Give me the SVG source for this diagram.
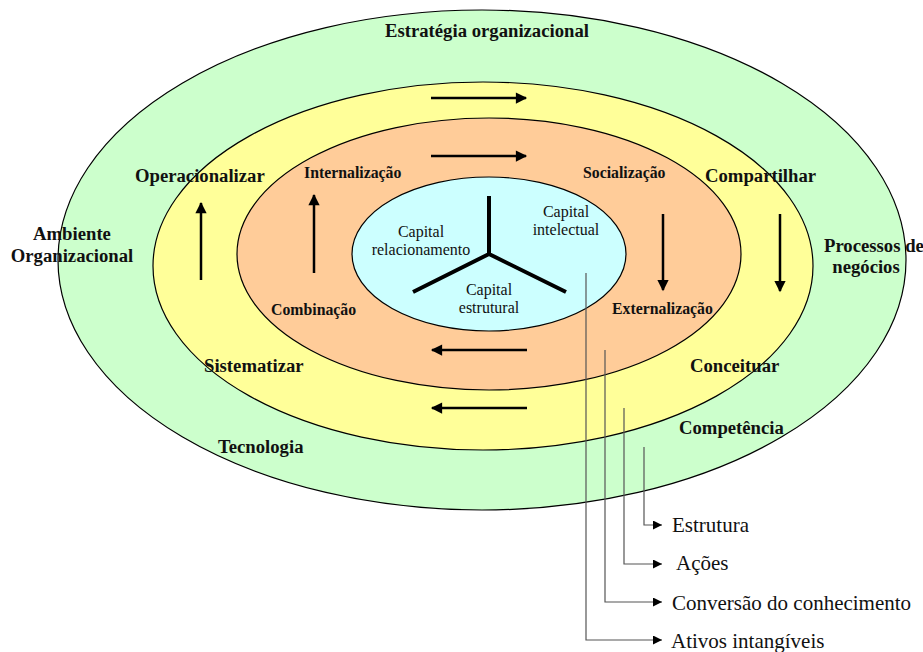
<svg xmlns="http://www.w3.org/2000/svg" width="923" height="652" viewBox="0 0 923 652">
  <style>
    .ring { stroke: #000; stroke-width: 1.2; }
    .big { font-family: "Liberation Serif", "Times New Roman", serif; font-weight: bold; font-size: 18.7px; fill: #111; }
    .small { font-family: "Liberation Serif", "Times New Roman", serif; font-weight: bold; font-size: 15.8px; fill: #111; }
    .cap { font-family: "Liberation Serif", "Times New Roman", serif; font-size: 16px; fill: #111; text-anchor: middle; }
    .note { font-family: "Liberation Serif", "Times New Roman", serif; font-size: 21px; fill: #111; }
    .flow { stroke: #000; stroke-width: 2.5; fill: none; marker-end: url(#head); }
    .lead { stroke: #555; stroke-width: 1.2; fill: none; marker-end: url(#tip); }
  </style>
  <defs>
    <marker id="head" viewBox="0 0 10 10" refX="9" refY="5" markerWidth="6" markerHeight="4.5" markerUnits="strokeWidth" orient="auto">
      <path d="M0,0 L10,5 L0,10 Z" fill="#000"/>
    </marker>
    <marker id="tip" viewBox="0 0 10 10" refX="10" refY="5" markerWidth="15" markerHeight="9" markerUnits="userSpaceOnUse" orient="auto">
      <path d="M0,0 L10,5 L0,10 Z" fill="#000"/>
    </marker>
  </defs>

  <rect width="923" height="652" fill="#fff"/>

  <!-- concentric rings -->
  <g id="ring-strategy">
    <ellipse class="ring" cx="482" cy="260" rx="424" ry="250" fill="#CCFFCC"/>
  </g>
  <g id="ring-competence">
    <ellipse class="ring" cx="483" cy="266" rx="330" ry="184" fill="#FFFF99"/>
  </g>
  <g id="ring-conversion">
    <ellipse class="ring" cx="489" cy="254" rx="252" ry="136" fill="#FFCC99"/>
  </g>
  <g id="core-capital">
    <ellipse class="ring" cx="489" cy="254" rx="137" ry="77" fill="#CCFFFF"/>
    <path d="M489,254 L489,196 M489,254 L413,292 M489,254 L566,292" stroke="#000" stroke-width="4" fill="none"/>
    <text class="cap" x="421" y="237">Capital</text>
    <text class="cap" x="421" y="255">relacionamento</text>
    <text class="cap" x="566" y="217">Capital</text>
    <text class="cap" x="566" y="235">intelectual</text>
    <text class="cap" x="489" y="295">Capital</text>
    <text class="cap" x="489" y="313">estrutural</text>
  </g>

  <!-- ring labels -->
  <g id="labels-outer">
    <text class="big" x="487" y="37" text-anchor="middle">Estratégia organizacional</text>
    <text class="big" x="72" y="240" text-anchor="middle">Ambiente</text>
    <text class="big" x="72" y="262" text-anchor="middle">Organizacional</text>
    <text class="big" x="824" y="252">Processos de</text>
    <text class="big" x="866" y="273" text-anchor="middle">negócios</text>
    <text class="big" x="218" y="453">Tecnologia</text>
    <text class="big" x="679" y="434">Competência</text>
  </g>
  <g id="labels-middle">
    <text class="big" x="135" y="182">Operacionalizar</text>
    <text class="big" x="705" y="182">Compartilhar</text>
    <text class="big" x="204" y="372">Sistematizar</text>
    <text class="big" x="690" y="372">Conceituar</text>
  </g>
  <g id="labels-inner">
    <text class="small" x="304" y="178">Internalização</text>
    <text class="small" x="583" y="178">Socialização</text>
    <text class="small" x="271" y="315">Combinação</text>
    <text class="small" x="612" y="314">Externalização</text>
  </g>

  <!-- cycle arrows -->
  <g id="connectors">
    <line class="flow" x1="431" y1="98" x2="526" y2="98"/>
    <line class="flow" x1="431" y1="156" x2="526" y2="156"/>
    <line class="flow" x1="663" y1="214" x2="663" y2="290"/>
    <line class="flow" x1="780" y1="214" x2="780" y2="291"/>
    <line class="flow" x1="527" y1="350" x2="432" y2="350"/>
    <line class="flow" x1="527" y1="408" x2="432" y2="408"/>
    <line class="flow" x1="314" y1="273" x2="314" y2="195"/>
    <line class="flow" x1="201" y1="280" x2="201" y2="203"/>

    <!-- legend leaders -->
    <polyline class="lead" points="586,273 586,640 662,640"/>
    <polyline class="lead" points="605,350 605,602 662,602"/>
    <polyline class="lead" points="624,408 624,564 662,564"/>
    <polyline class="lead" points="644,447 644,525 662,525"/>
  </g>

  <g id="legend">
    <text class="note" x="672" y="532">Estrutura</text>
    <text class="note" x="676" y="570">Ações</text>
    <text class="note" x="672" y="610">Conversão do conhecimento</text>
    <text class="note" x="671" y="648">Ativos intangíveis</text>
  </g>
</svg>
